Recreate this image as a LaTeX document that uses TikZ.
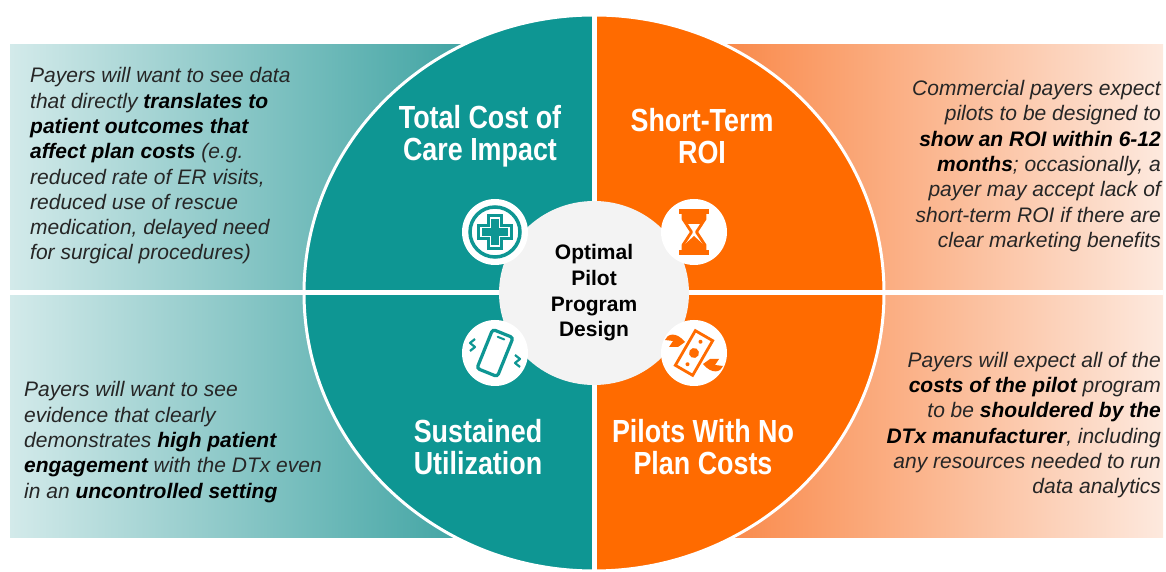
\documentclass[tikz,border=0pt]{standalone}
\usepackage{fontspec}
\setmainfont{Liberation Sans}
\newfontfamily\titlefont[FakeStretch=0.84]{Liberation Sans}
\usetikzlibrary{calc}
\definecolor{tealc}{HTML}{0E9693}
\definecolor{orangec}{HTML}{FF6B00}
\definecolor{tealpale}{HTML}{D3EAEA}
\definecolor{tealdeep}{HTML}{17908F}
\definecolor{orangepale}{HTML}{FDE9DE}
\definecolor{orangedeep}{HTML}{F86D1E}
\definecolor{centergray}{HTML}{F3F3F3}
\definecolor{textc}{HTML}{262626}
\newcommand\keyw[1]{\textbf{\color{black}#1}}

\begin{document}
\begin{tikzpicture}[x=1pt,y=1pt,
	sidetext/.style={inner sep=0, text=textc, font=\fontsize{21}{25.3}\selectfont\itshape},
	title/.style={inner sep=0, text=white, align=center, font=\titlefont\bfseries\fontsize{32}{32.5}\selectfont},
	icondisk/.style={fill=white}]
				%%%%% START %%%%%
				\def\cx{594}
				\def\cy{279}
				\def\rx{290}
				\def\ry{278}
				\def\rinx{95}
				\def\riny{92}
				\def\icr{33}
				\def\xl{495}
				\def\xr{694}
				\def\yt{340}
				\def\yb{219}

				\useasboundingbox (0,0) rectangle (1166,572);

				% side boxes
				\shade[left color=tealpale, right color=tealdeep] (10,34) rectangle (\cx,527);
				\shade[left color=orangedeep, right color=orangepale] (\cx,34) rectangle (1163,527);

				% big circle
				\begin{scope}
					\clip (0,0) rectangle (\cx,572);
					\fill[tealc] (\cx,\cy) ellipse [x radius=\rx, y radius=\ry];
				\end{scope}
				\begin{scope}
					\clip (\cx,0) rectangle (1166,572);
					\fill[orangec] (\cx,\cy) ellipse [x radius=\rx, y radius=\ry];
				\end{scope}
				\draw[white, line width=3] (\cx,\cy) ellipse [x radius=\rx, y radius=\ry];
				\draw[white, line width=5] (\cx,\cy-\ry-2) -- (\cx,\cy+\ry+2);
				\draw[white, line width=5] (10,\cy) -- (1163,\cy);

				% centre
				\fill[centergray] (\cx,\cy) ellipse [x radius=\rinx, y radius=\riny];
				\node[inner sep=0, align=center, text=black, font=\bfseries\fontsize{21}{25.7}\selectfont] (core) at (\cx,\cy) {Optimal\\Pilot\\Program\\Design};

				% plus icon
				\fill[icondisk] (\xl,\yt) circle (\icr);
				\draw[tealc, line width=3.5] (\xl,\yt) circle (25);
				\begin{scope}[shift={(\xl,\yt)}]
					\fill[tealc] (-8,-18) rectangle (8,18);
					\fill[tealc] (-18,-8) rectangle (18,8);
					\draw[white, line width=1.4] (-4.5,-14) -- (4.5,-14) -- (4.5,-4.5) -- (14,-4.5) -- (14,4.5) -- (4.5,4.5) -- (4.5,14) -- (-4.5,14) -- (-4.5,4.5) -- (-14,4.5) -- (-14,-4.5) -- (-4.5,-4.5) -- cycle;
				\end{scope}

				% hourglass icon
				\fill[icondisk] (\xr,\yt) circle (\icr);
				\begin{scope}[shift={(\xr,\yt)}]
					\fill[orangec] (-15,18) rectangle (15,23);
					\fill[orangec] (-15,-18) rectangle (15,-23);
					\draw[orangec, line width=2.8, line join=round] (-11,18) -- (-11,13) -- (-2.5,0) -- (-11,-13) -- (-11,-18);
					\draw[orangec, line width=2.8, line join=round] (11,18) -- (11,13) -- (2.5,0) -- (11,-13) -- (11,-18);
					\fill[orangec] (-11,18) -- (11,18) -- (11,13) -- (7.5,8) -- (-7.5,8) -- (-11,13) -- cycle;
					\fill[orangec] (-11,-18) -- (-11,-14) -- (0,-4) -- (11,-14) -- (11,-18) -- cycle;
				\end{scope}

				% phone icon
				\fill[icondisk] (\xl,\yb) circle (\icr);
				\begin{scope}[shift={(\xl,\yb)}]
					\begin{scope}[rotate=-22]
						\draw[tealc, line width=3.2, rounded corners=3] (-11,-21) rectangle (11,21);
						\draw[tealc, line width=2, line cap=round] (-3.5,16) -- (3.5,16);
					\end{scope}
					\draw[tealc, line width=2.2, line join=round] (-20,14) -- (-25,10) -- (-20,6) -- (-25,2);
					\draw[tealc, line width=2.2, line join=round] (20,-2) -- (25,-6) -- (20,-10) -- (25,-14);
				\end{scope}

				% money icon
				\fill[icondisk] (\xr,\yb) circle (\icr);
				\begin{scope}[shift={(\xr,\yb)}]
					\begin{scope}[rotate=-30]
						\draw[orangec, line width=2.8] (-10,-20) rectangle (10,20);
						\fill[orangec] (0,0) circle (5);
						\fill[orangec] (0,13) circle (2);
						\fill[orangec] (0,-13) circle (2);
					\end{scope}
					\fill[orangec] (-9,11) .. controls (-18,22) and (-27,19) .. (-29,13) -- (-21,12) -- (-25,6) -- (-16,6) -- cycle;
					\fill[orangec] (9,-11) .. controls (18,-22) and (27,-19) .. (29,-13) -- (21,-12) -- (25,-6) -- (16,-6) -- cycle;
				\end{scope}

				% quadrant titles
				\node[title] (tcoc) at (480,436) {Total Cost of\\Care Impact};
				\node[title] (roi) at (702,436) {Short-Term\\ROI};
				\node[title] (util) at (478,125) {Sustained\\Utilization};
				\node[title] (nocost) at (703,125) {Pilots With No\\Plan Costs};

				% side texts
				\node[sidetext, anchor=west, align=left] (txtTL) at (30,406) {Payers will want to see data\\that directly \keyw{translates to}\\\keyw{patient outcomes that}\\\keyw{affect plan costs} (e.g.\\reduced rate of ER visits,\\reduced use of rescue\\medication, delayed need\\for surgical procedures)};
				\node[sidetext, anchor=west, align=left] (txtBL) at (24,130) {Payers will want to see\\evidence that clearly\\demonstrates \keyw{high patient}\\\keyw{engagement} with the DTx even\\in an \keyw{uncontrolled setting}};
				\node[sidetext, anchor=east, align=right] (txtTR) at (1161,406) {Commercial payers expect\\pilots to be designed to\\\keyw{show an ROI within 6-12}\\\keyw{months}; occasionally, a\\payer may accept lack of\\short-term ROI if there are\\clear marketing benefits};
				\node[sidetext, anchor=east, align=right] (txtBR) at (1161,147) {Payers will expect all of the\\\keyw{costs of the pilot} program\\to be \keyw{shouldered by the}\\\keyw{DTx manufacturer}, including\\any resources needed to run\\data analytics};
				%%%%% START %%%%%
\end{tikzpicture}
\end{document}
